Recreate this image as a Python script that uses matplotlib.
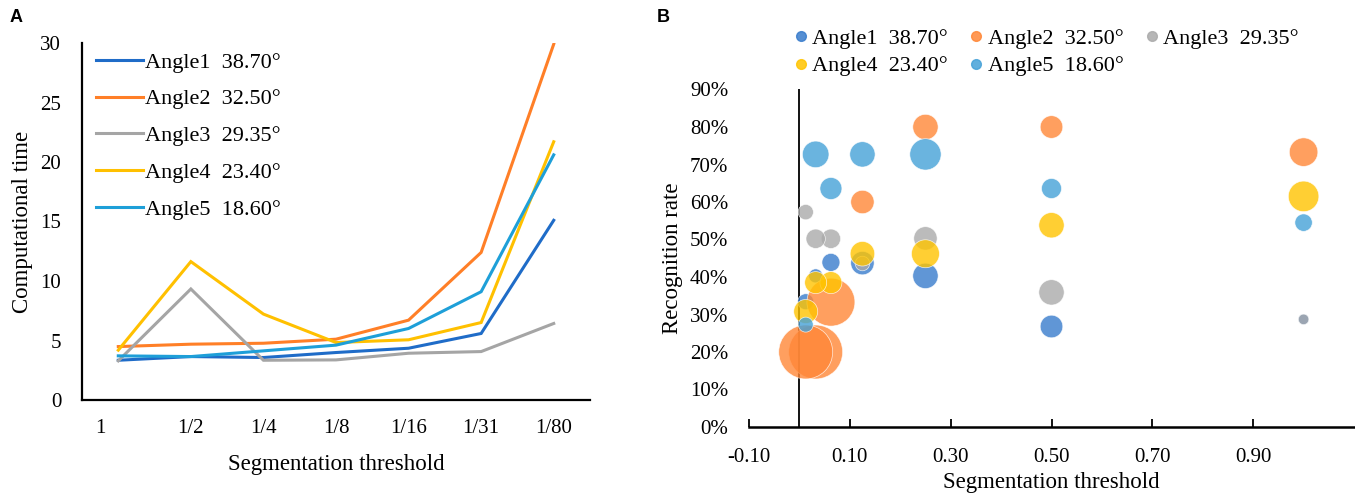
import matplotlib.pyplot as plt
from matplotlib.lines import Line2D

plt.rcParams["font.family"] = ["Liberation Serif", "DejaVu Serif"]
plt.rcParams["axes.unicode_minus"] = False

# ---- data -------------------------------------------------------------
series_names = [
    "Angle1  38.70°",
    "Angle2  32.50°",
    "Angle3  29.35°",
    "Angle4  23.40°",
    "Angle5  18.60°",
]
threshold_labels = ["1", "1/2", "1/4", "1/8", "1/16", "1/31", "1/80"]
thresholds = [1, 1 / 2, 1 / 4, 1 / 8, 1 / 16, 1 / 31, 1 / 80]

# panel A: computational time
time_angle1 = [3.34, 3.65, 3.57, 3.99, 4.35, 5.59, 15.1]
time_angle2 = [4.49, 4.69, 4.77, 5.11, 6.71, 12.4, 29.9]
time_angle3 = [3.29, 9.33, 3.34, 3.37, 3.93, 4.07, 6.43]
time_angle4 = [4.19, 11.63, 7.22, 4.83, 5.06, 6.51, 21.7]
time_angle5 = [3.71, 3.65, 4.13, 4.61, 6.01, 9.10, 20.6]

# panel B: recognition rate and bubble size
rate_angle1 = [0.287, 0.268, 0.403, 0.437, 0.439, 0.403, 0.334]
rate_angle2 = [0.733, 0.800, 0.800, 0.600, 0.333, 0.200, 0.200]
rate_angle3 = [0.287, 0.359, 0.503, 0.436, 0.502, 0.502, 0.573]
rate_angle4 = [0.615, 0.538, 0.462, 0.462, 0.385, 0.385, 0.308]
rate_angle5 = [0.545, 0.636, 0.727, 0.727, 0.636, 0.727, 0.273]

bubble_angle1 = [28, 128, 161, 137, 81, 49, 64]
bubble_angle2 = [204, 128, 161, 137, 576, 729, 729]
bubble_angle3 = [28, 161, 137, 53, 94, 94, 59]
bubble_angle4 = [234, 161, 196, 151, 121, 121, 144]
bubble_angle5 = [76, 100, 246, 161, 121, 177, 56]

times = [time_angle1, time_angle2, time_angle3, time_angle4, time_angle5]
rates = [rate_angle1, rate_angle2, rate_angle3, rate_angle4, rate_angle5]
bubbles = [bubble_angle1, bubble_angle2, bubble_angle3, bubble_angle4, bubble_angle5]

line_colors = ["#1F6CC8", "#FF7F27", "#A5A5A5", "#FFC000", "#1E9FD8"]
bubble_colors = ["#387CCC", "#FF8737", "#AAAAAA", "#FFC400", "#45A1D8"]

# ---- figure -----------------------------------------------------------
fig = plt.figure(figsize=(13.55, 4.94), dpi=100)
W, H = 1355, 494


def px_axes(left, top, right, bottom):
    return fig.add_axes([left / W, 1 - bottom / H, (right - left) / W, (bottom - top) / H])


# panel A
ax1 = px_axes(82, 43, 590, 400)
idx = list(range(len(threshold_labels)))
for vals, name, c in zip(times, series_names, line_colors):
    ax1.plot(idx, vals, color=c, lw=2.2, label=name, solid_joinstyle="miter")

ax1.set_xlim(-0.5, 6.5)
ax1.set_ylim(0, 30)
ax1.set_yticks(range(0, 31, 5))
ax1.set_xticks([-0.25] + idx[1:])
ax1.set_xticklabels(threshold_labels)
ax1.tick_params(axis="both", length=0, labelsize=15)
ax1.tick_params(axis="y", pad=15)
ax1.tick_params(axis="x", pad=14)
for s in ["top", "right"]:
    ax1.spines[s].set_visible(False)
for s in ["left", "bottom"]:
    ax1.spines[s].set_linewidth(1.6)
ax1.set_xlabel("Segmentation threshold", fontsize=16.5, labelpad=11)
ax1.set_ylabel("Computational time", fontsize=16.5, labelpad=5)
ax1.legend(
    loc="upper left",
    bbox_to_anchor=(14 / 508, 1 - 9 / 357),
    frameon=False,
    fontsize=16,
    handlelength=2.1,
    handletextpad=0.1,
    labelspacing=0.73,
    borderpad=0,
    borderaxespad=0,
)

# panel B
ax2 = px_axes(749, 89.5, 1354, 427)
for x_vals, vals, sizes, c in zip([thresholds] * 5, rates, bubbles, bubble_colors):
    ax2.scatter(
        x_vals,
        vals,
        s=[2.07 * v for v in sizes],
        color=c,
        alpha=0.8,
        edgecolors="white",
        linewidths=0.5,
        zorder=3,
    )
ax2.axvline(0, color="black", lw=1.3, zorder=2)
ax2.set_xlim(-0.1, 1.1)
ax2.set_ylim(0, 0.9)
xt = [-0.1, 0.1, 0.3, 0.5, 0.7, 0.9]
ax2.set_xticks(xt)
ax2.set_xticklabels([f"{v:.2f}" for v in xt])
yt = [i / 10 for i in range(10)]
ax2.set_yticks(yt)
ax2.set_yticklabels([f"{int(round(v * 100))}%" for v in yt])
ax2.tick_params(axis="x", direction="in", length=6, width=1.3, labelsize=15, pad=15)
ax2.tick_params(axis="y", length=0, labelsize=15, pad=15)
for s in ["top", "right", "left"]:
    ax2.spines[s].set_visible(False)
ax2.spines["bottom"].set_linewidth(1.8)
ax2.set_xlabel("Segmentation threshold", fontsize=16.5, labelpad=4)
ax2.set_ylabel("Recognition rate", fontsize=16.5, labelpad=5)

handles = [
    Line2D([], [], marker="o", ls="none", markersize=7, color=c, alpha=0.85)
    for c in bubble_colors
]
order = [0, 3, 1, 4, 2]
fig.legend(
    [handles[i] for i in order],
    [series_names[i] for i in order],
    loc="upper left",
    bbox_to_anchor=(794 / W, 1 - 28 / H),
    ncol=3,
    frameon=False,
    fontsize=16,
    handlelength=0.6,
    handletextpad=0.2,
    columnspacing=1.0,
    labelspacing=0.33,
    borderpad=0,
    borderaxespad=0,
)

fig.text(16 / W, 1 - 18 / H, "A", family="Liberation Sans", weight="bold",
         fontsize=13, ha="center", va="center")
fig.text(663 / W, 1 - 18 / H, "B", family="Liberation Sans", weight="bold",
         fontsize=13, ha="center", va="center")

fig.savefig("out.png", dpi=100)
